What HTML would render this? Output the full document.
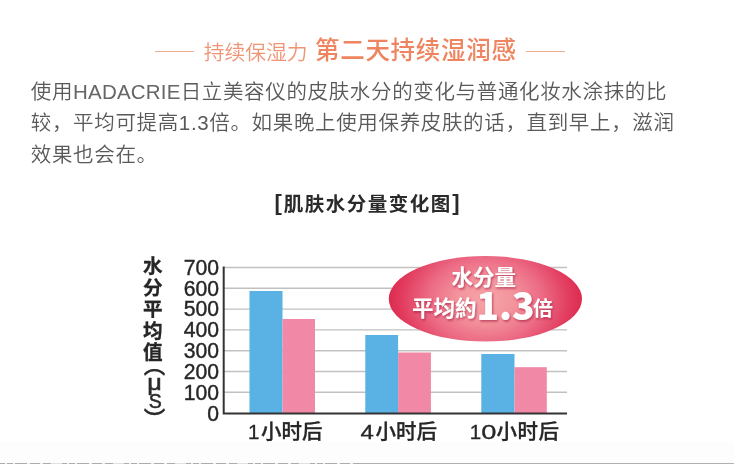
<!DOCTYPE html>
<html lang="zh-CN">
<head>
<meta charset="utf-8">
<title>持续保湿力</title>
<style>
html,body{margin:0;padding:0;background:#fff;}
body{width:751px;height:464px;position:relative;overflow:hidden;font-family:"Liberation Sans","Noto Sans CJK SC",sans-serif;}
.abs{position:absolute;white-space:nowrap;}
.title{left:0;top:32px;width:751px;height:40px;color:#ee8a66;}
.title .ln{position:absolute;top:18.5px;height:1px;background:#f2ad94;}
.title .t1{position:absolute;left:203.7px;top:6.6px;font-size:20.8px;font-weight:350;line-height:28px;color:#ef9474;}
.title .t2{position:absolute;left:315px;top:3px;letter-spacing:0.7px;font-size:24.5px;font-weight:500;line-height:32px;color:#ee8560;}
.body{left:30.8px;top:75.6px;font-size:20.5px;line-height:31.6px;color:#595959;font-weight:350;letter-spacing:0.65px;}
.body .la{letter-spacing:0.2px;color:#666;}
.ctitle{left:0;width:735.5px;text-align:center;top:188.8px;font-size:19.5px;font-weight:700;color:#2a2a2a;line-height:30px;letter-spacing:1.5px;}
.ctitle .br{font-size:22px;position:relative;top:-0.6px;line-height:10px;}
.foot{left:0;top:442px;width:734px;height:22px;background:#fefdfd;}
.footl{left:360px;top:463px;width:374px;height:1px;background:#b2b0b0;}
.footd{left:0;top:463px;width:360px;height:1px;background:repeating-linear-gradient(90deg,#aeacac 0 5px,#f0eeee 5px 7px,#aeacac 7px 13px,#f0eeee 13px 15px,#aeacac 15px 27px,#f0eeee 27px 30px,#aeacac 30px 40px,#f0eeee 40px 43px,#aeacac 43px 51px,#e2e0e0 51px 62px);}
svg{position:absolute;left:0;top:0;}
</style>
</head>
<body>
<div class="abs title">
  <span class="ln" style="left:154.5px;width:39px"></span>
  <span class="t1">持续保湿力</span>
  <span class="t2">第二天持续湿润感</span>
  <span class="ln" style="left:526px;width:39px"></span>
</div>
<div class="abs body">使用<span class="la">HADACRIE</span>日立美容仪的皮肤水分的变化与普通化妆水涂抹的比<br>较，平均可提高1.3倍。如果晚上使用保养皮肤的话，直到早上，滋润<br>效果也会在。</div>
<div class="abs ctitle"><span class="br" style="margin-right:-0.3px;left:-0.7px">[</span>肌肤水分量变化图<span class="br" style="margin-left:-0.3px;left:0.7px">]</span></div>
<div class="abs foot"></div>
<div class="abs footd"></div>
<div class="abs footl"></div>

<svg width="751" height="464" viewBox="0 0 751 464">
  <defs>
    <radialGradient id="eg" gradientUnits="userSpaceOnUse" cx="485.4" cy="300" r="98" gradientTransform="translate(485.4 300) scale(1 0.74) translate(-485.4 -300)">
      <stop offset="0" stop-color="#f5a5a9"/>
      <stop offset="0.3" stop-color="#f3939c"/>
      <stop offset="0.58" stop-color="#ec6b85"/>
      <stop offset="0.85" stop-color="#e23d5f"/>
      <stop offset="1" stop-color="#dc294d"/>
    </radialGradient>
    <filter id="ts" x="-10%" y="-20%" width="120%" height="150%">
      <feDropShadow dx="1" dy="1.5" stdDeviation="1" flood-color="#a01838" flood-opacity="0.65"/>
    </filter>
  </defs>
  <!-- grid -->
  <g stroke="#c1c1c1" stroke-width="1.4" transform="translate(0 0.3)">
    <line x1="224" y1="267.2" x2="567" y2="267.2"/>
    <line x1="224" y1="288" x2="567" y2="288"/>
    <line x1="224" y1="308.8" x2="567" y2="308.8"/>
    <line x1="224" y1="329.6" x2="567" y2="329.6"/>
    <line x1="224" y1="350.4" x2="567" y2="350.4"/>
    <line x1="224" y1="371.2" x2="567" y2="371.2"/>
    <line x1="224" y1="392" x2="567" y2="392"/>
  </g>
  <!-- bars -->
  <g>
    <rect x="249.5" y="291" width="33" height="122" fill="#59b2e3"/>
    <rect x="282.5" y="319" width="32.5" height="94" fill="#f088a6"/>
    <rect x="365.3" y="335" width="32.8" height="78" fill="#59b2e3"/>
    <rect x="398.1" y="352.5" width="32.8" height="60.5" fill="#f088a6"/>
    <rect x="481.3" y="354" width="33.2" height="59" fill="#59b2e3"/>
    <rect x="514.5" y="367.2" width="32.3" height="45.8" fill="#f088a6"/>
  </g>
  <!-- axes -->
  <g stroke="#333" stroke-width="2" fill="none">
    <path d="M223.7 266.4V413.4H567"/>
  </g>
  <!-- y labels -->
  <g font-family="'Liberation Sans','Noto Sans CJK SC',sans-serif" font-size="21.7" fill="#262626" stroke="#262626" stroke-width="0.4" text-anchor="end" transform="translate(219 0) scale(0.975 1)">
    <text x="0" y="274.8">700</text>
    <text x="0" y="295.6">600</text>
    <text x="0" y="316.4">500</text>
    <text x="0" y="337.2">400</text>
    <text x="0" y="358.0">300</text>
    <text x="0" y="378.8">200</text>
    <text x="0" y="399.6">100</text>
    <text x="0" y="421.2">0</text>
  </g>
  <!-- vertical label -->
  <g font-family="'Liberation Sans','Noto Sans CJK SC',sans-serif" font-size="19.6" font-weight="700" fill="#262626" stroke="#262626" stroke-width="0.3" text-anchor="middle">
    <text x="152.8" y="273.2">水</text>
    <text x="152.8" y="294.7">分</text>
    <text x="152.8" y="316.2">平</text>
    <text x="152.8" y="337.7">均</text>
    <text x="152.8" y="359.2">值</text>
  </g>
  <g font-family="'Liberation Sans','Noto Sans CJK SC',sans-serif" fill="#2b2b2b" text-anchor="middle">
    <text x="154.5" y="373" font-size="21.5" font-weight="500" stroke="#262626" stroke-width="0.4" font-family="'Noto Sans CJK SC',sans-serif">︵</text>
    <text transform="translate(154.6 389.8) scale(1.15 1)" x="0" y="0" font-size="22" stroke="#262626" stroke-width="0.5">μ</text>
    <text x="155.2" y="408.2" font-size="19.5" stroke="#262626" stroke-width="0.5">S</text>
    <text x="154.5" y="427.3" font-size="21.5" font-weight="500" stroke="#262626" stroke-width="0.4" font-family="'Noto Sans CJK SC',sans-serif">︶</text>
  </g>
  <!-- x labels -->
  <g font-family="'Liberation Sans','Noto Sans CJK SC',sans-serif" font-size="20.5" font-weight="500" fill="#262626" stroke="#262626" stroke-width="0.3" text-anchor="middle">
    <text x="248" y="438.8" text-anchor="start">1<tspan dx="1.7">小时后</tspan></text>
    <text transform="translate(360.4 438.8) scale(1.17 1)" text-anchor="start">4</text>
    <text x="375.4" y="438.8" text-anchor="start">小时后</text>
    <text x="469.7" y="438.8" text-anchor="start">1</text>
    <text transform="translate(481.3 438.8) scale(1.33 1)" text-anchor="start">0</text>
    <text x="496.6" y="438.8" text-anchor="start" letter-spacing="0.45">小时后</text>
  </g>
  <!-- ellipse -->
  <ellipse cx="485.4" cy="298.8" rx="96.6" ry="42.8" fill="url(#eg)"/>
  <g font-family="'Liberation Sans','Noto Sans CJK SC',sans-serif" font-weight="700" fill="#fff" filter="url(#ts)">
    <text x="483.8" y="284.6" font-size="21.5" text-anchor="middle">水分量</text>
    <text x="412" y="316.3" font-size="21.5">平均約</text>
    <text x="476.5" y="319.7" font-size="37" font-weight="900" font-family="'Noto Sans CJK SC',sans-serif">1.3</text>
    <text x="533" y="316.3" font-size="20">倍</text>
  </g>
</svg>
</body>
</html>
